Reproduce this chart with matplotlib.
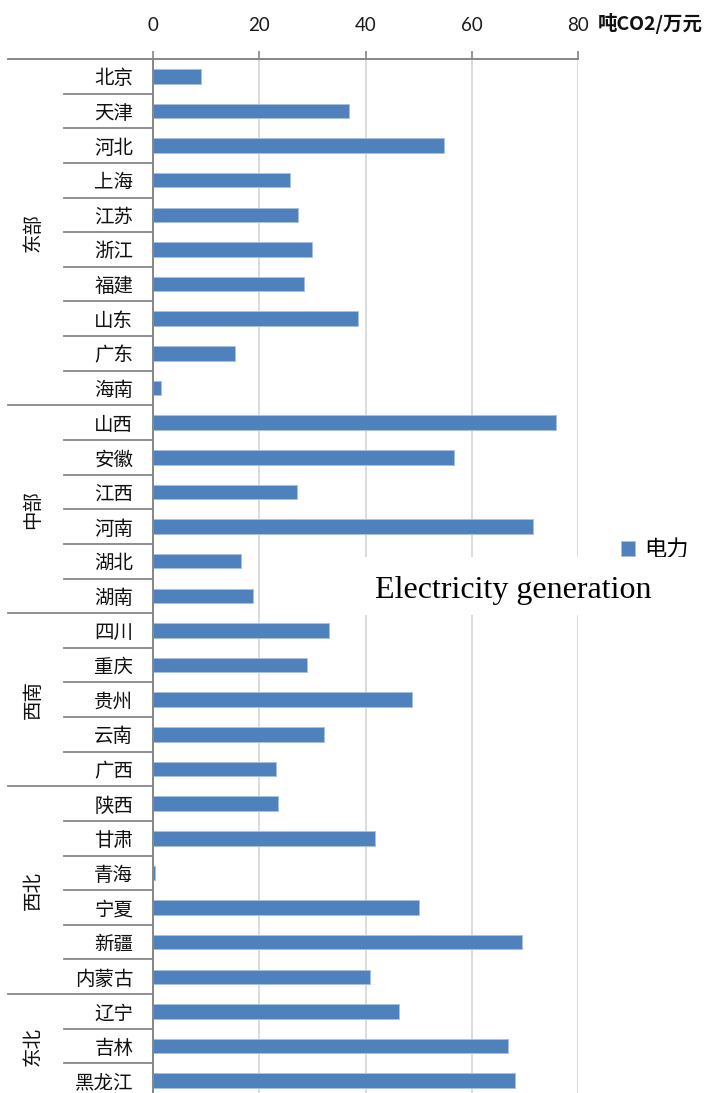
import matplotlib
matplotlib.use("Agg")
import matplotlib.pyplot as plt
from matplotlib.lines import Line2D
from matplotlib.patches import Rectangle
from matplotlib.transforms import blended_transform_factory

# Power-sector carbon intensity by province (吨CO2/万元)
provinces = ["北京", "天津", "河北", "上海", "江苏", "浙江", "福建", "山东", "广东", "海南",
             "山西", "安徽", "江西", "河南", "湖北", "湖南",
             "四川", "重庆", "贵州", "云南", "广西",
             "陕西", "甘肃", "青海", "宁夏", "新疆", "内蒙古",
             "辽宁", "吉林", "黑龙江"]
values = [9.0, 36.9, 54.8, 25.8, 27.3, 30.0, 28.4, 38.6, 15.5, 1.5,
          75.9, 56.7, 27.1, 71.5, 16.6, 18.9,
          33.1, 29.0, 48.7, 32.2, 23.1,
          23.5, 41.8, 0.4, 50.1, 69.5, 40.9,
          46.3, 66.8, 68.1]
regions = ["东部", "中部", "西南", "西北", "东北"]
region_sizes = [10, 6, 5, 6, 3]
x_ticks = [0, 20, 40, 60, 80]
series_name = "电力"
unit_label = "吨CO2/万元"
title_text = "Electricity generation"

W, H = 706, 1093
CJK = ["Noto Sans CJK SC", "DejaVu Sans"]
AXIS_GRAY = "#868686"
BAR_BLUE = "#4F81BD"

fig = plt.figure(figsize=(W / 100, H / 100), dpi=100)
fig.patch.set_facecolor("white")

# plot area in pixel terms; it runs slightly past the bottom edge
left_px, right_px, top_px, bottom_px = 152.7, 578.3, 59.0, 1098.0
ax = fig.add_axes([left_px / W, 1 - bottom_px / H,
                   (right_px - left_px) / W, (bottom_px - top_px) / H])

n = len(provinces)
ypos = list(range(n))
bars = ax.barh(ypos, values, height=0.42, color=BAR_BLUE,
               edgecolor="#A9C1E0", linewidth=0.7, zorder=3, label=series_name)

ax.set_xlim(0, 80)
ax.set_ylim(n - 0.5, -0.5)

# x axis on top
ax.xaxis.tick_top()
ax.set_xticks(x_ticks)
ax.set_xticklabels([str(t) for t in x_ticks], fontfamily="Lato", fontsize=13.5, color="#1a1a1a")
ax.tick_params(axis="x", direction="out", length=6, width=1.2, color=AXIS_GRAY, pad=12)
ax.grid(axis="x", color="#D9D9D9", linewidth=1.3, zorder=0)
ax.set_axisbelow(True)

# category labels
ax.set_yticks(ypos)
ax.set_yticklabels(provinces, fontfamily=CJK, fontsize=14, fontweight="light", color="#111111")
ax.tick_params(axis="y", length=0, pad=14)

for s in ["top", "right", "bottom"]:
    ax.spines[s].set_visible(False)
ax.spines["left"].set_color(AXIS_GRAY)
ax.spines["left"].set_linewidth(1.4)
ax.spines["left"].set_zorder(4)

# top axis line extends across the label columns
tr_top = blended_transform_factory(fig.transFigure, ax.transAxes)
fig.add_artist(Line2D([8 / W, right_px / W], [1, 1], transform=tr_top,
                      color=AXIS_GRAY, linewidth=1.4))

# row separators on the left: short within a region, long between regions
tr_rows = blended_transform_factory(fig.transFigure, ax.transData)
boundaries = set()
acc = 0
for size in region_sizes[:-1]:
    acc += size
    boundaries.add(acc)
for i in range(1, n):
    x0 = 8 / W if i in boundaries else 64 / W
    fig.add_artist(Line2D([x0, left_px / W], [i - 0.5, i - 0.5], transform=tr_rows,
                          color=AXIS_GRAY, linewidth=1.3))

# region labels, rotated
start = 0
for name, size in zip(regions, region_sizes):
    center = start + (size - 1) / 2
    fig.text(33 / W, center, name, transform=tr_rows, rotation=90,
             ha="center", va="center", fontfamily=CJK, fontsize=14,
             fontweight="light", color="#111111")
    start += size

# legend
ax.legend(handles=[bars], labels=[series_name], loc="center left",
          bbox_to_anchor=(621 / W, 1 - 549.5 / H), bbox_transform=fig.transFigure,
          frameon=False, borderpad=0, borderaxespad=0, handlelength=0.65,
          handleheight=0.65, handletextpad=0.4,
          prop={"family": CJK, "size": 16, "weight": "light"})

# unit label beside the top axis
fig.text(598 / W, 1 - 24 / H, unit_label, ha="left", va="center",
         fontfamily=CJK, fontsize=14, fontweight="bold", color="#111111")

# white text box with the English title laid over the plot
fig.add_artist(Rectangle((364 / W, 1 - 615 / H), (W - 364) / W, (615 - 556.5) / H,
                         transform=fig.transFigure, facecolor="white",
                         edgecolor="none", zorder=5))
fig.text(375 / W, 1 - 598 / H, title_text, ha="left", va="baseline",
         fontfamily="Liberation Serif", fontsize=23, color="#000000", zorder=6)

fig.savefig("out.png", dpi=100, facecolor="white")
